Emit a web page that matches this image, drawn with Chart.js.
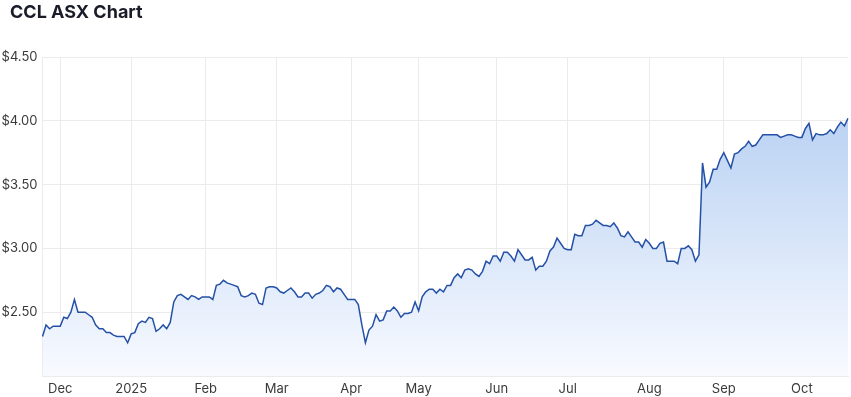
<!DOCTYPE html>
<html>
<head>
<meta charset="utf-8">
<script src="https://cdn.jsdelivr.net/npm/chart.js@4.4.0/dist/chart.umd.min.js"></script>
<style>
    html, body { margin: 0; padding: 0; background: #ffffff; }
    #wrap { position: relative; width: 851px; height: 397px; }
    #title { position: absolute; left: 10px; top: 1px; font: 700 18px Inter, "Noto Sans", sans-serif; color: #1b1c2a; }
    canvas { position: absolute; left: 0; top: 0; }
</style>
</head>
<body>
<div id="wrap">
    <canvas id="chart" width="851" height="397"></canvas>
    <div id="title">CCL ASX Chart</div>
</div>
<script>
// Tick label shown on the first trading day of each month ('' = no label)
const monthTickLabels = ['', 'Dec', '2025', 'Feb', 'Mar', 'Apr', 'May', 'Jun', 'Jul', 'Aug', 'Sep', 'Oct'];

// Daily closes (A$), one array per month
const nov24 = [2.31, 2.40, 2.37, 2.39, 2.39];
const dec24 = [2.39, 2.46, 2.45, 2.50, 2.60, 2.50, 2.50, 2.50, 2.48, 2.46, 2.40, 2.37, 2.37, 2.34, 2.34, 2.32, 2.31, 2.31, 2.31, 2.26];
const jan25 = [2.33, 2.34, 2.41, 2.43, 2.42, 2.46, 2.45, 2.35, 2.37, 2.40, 2.37, 2.42, 2.58, 2.63, 2.64, 2.62, 2.60, 2.63, 2.62, 2.60, 2.62];
const feb25 = [2.62, 2.62, 2.60, 2.71, 2.72, 2.75, 2.73, 2.72, 2.71, 2.70, 2.63, 2.62, 2.63, 2.65, 2.64, 2.57, 2.56, 2.69, 2.70, 2.70];
const mar25 = [2.69, 2.66, 2.65, 2.67, 2.69, 2.66, 2.62, 2.62, 2.65, 2.65, 2.61, 2.64, 2.65, 2.67, 2.71, 2.70, 2.66, 2.69, 2.68, 2.64, 2.60];
const apr25 = [2.60, 2.60, 2.56, 2.40, 2.26, 2.36, 2.39, 2.48, 2.43, 2.44, 2.51, 2.51, 2.54, 2.51, 2.46, 2.49, 2.49, 2.50, 2.58];
const may25 = [2.51, 2.62, 2.66, 2.68, 2.68, 2.65, 2.68, 2.66, 2.71, 2.71, 2.77, 2.80, 2.77, 2.83, 2.84, 2.83, 2.80, 2.78, 2.82, 2.90, 2.88, 2.94];
const jun25 = [2.94, 2.90, 2.97, 2.97, 2.94, 2.90, 2.99, 2.95, 2.91, 2.91, 2.93, 2.83, 2.86, 2.86, 2.90, 2.98, 3.01, 3.08, 3.04, 3.00];
const jul25 = [2.99, 2.99, 3.11, 3.10, 3.10, 3.18, 3.18, 3.19, 3.22, 3.20, 3.18, 3.18, 3.17, 3.20, 3.16, 3.10, 3.09, 3.13, 3.09, 3.05, 3.05, 3.01, 3.07];
const aug25 = [3.04, 3.00, 3.00, 3.04, 3.05, 2.90, 2.90, 2.90, 2.88, 3.00, 3.00, 3.02, 2.99, 2.90, 2.95, 3.67, 3.48, 3.52, 3.62, 3.62, 3.70];
const sep25 = [3.75, 3.69, 3.63, 3.74, 3.75, 3.78, 3.80, 3.84, 3.80, 3.81, 3.85, 3.89, 3.89, 3.89, 3.89, 3.89, 3.87, 3.88, 3.89, 3.89, 3.88, 3.87];
const oct25 = [3.87, 3.94, 3.98, 3.85, 3.90, 3.89, 3.89, 3.90, 3.93, 3.90, 3.95, 3.99, 3.96, 4.02];

const closesByMonth = [nov24, dec24, jan25, feb25, mar25, apr25, may25, jun25, jul25, aug25, sep25, oct25];

// Y axis range
const yMin = 2.0;
const yMax = 4.5;
const yStep = 0.5;

// --- flatten months into category labels + prices ---
const labels = [];
const prices = [];
closesByMonth.forEach((month, m) => {
    month.forEach((p, d) => {
        labels.push(d === 0 ? monthTickLabels[m] : '');
        prices.push(p);
    });
});

const GRID = '#ebebeb';
const TICK_FONT = { family: 'Inter, "Noto Sans", sans-serif', size: 13 };

const fillGradient = (context) => {
    const { chart } = context;
    const area = chart.chartArea;
    if (!area) return 'rgba(0,0,0,0)';
    const g = chart.ctx.createLinearGradient(0, area.top, 0, area.bottom);
    g.addColorStop(0, 'rgb(172, 201, 240)');
    g.addColorStop(1, 'rgb(248, 250, 255)');
    return g;
};

new Chart(document.getElementById('chart'), {
    type: 'line',
    data: {
        labels: labels,
        datasets: [{
            data: prices,
            borderColor: '#2451a6',
            borderWidth: 1.5,
            pointRadius: 0,
            tension: 0,
            fill: 'start',
            backgroundColor: fillGradient
        }]
    },
    options: {
        responsive: false,
        animation: false,
        layout: { padding: { top: 57, right: 3, left: 0, bottom: 0 } },
        plugins: {
            legend: { display: false },
            tooltip: { enabled: false }
        },
        scales: {
            x: {
                grid: { color: GRID, drawTicks: false },
                border: { color: GRID },
                ticks: {
                    autoSkip: false,
                    maxRotation: 0,
                    padding: 5,
                    color: '#3a3a3a',
                    font: TICK_FONT,
                    callback: function (value) {
                        const l = this.getLabelForValue(value);
                        return l ? l : null;
                    }
                },
                afterFit: (scale) => { scale.height = 21; }
            },
            y: {
                min: yMin,
                max: yMax,
                grid: { color: GRID, drawTicks: false },
                border: { color: GRID },
                ticks: {
                    stepSize: yStep,
                    padding: 5,
                    color: '#3a3a3a',
                    font: TICK_FONT,
                    callback: (v) => v <= yMin ? null : '$' + v.toFixed(2)
                },
                afterFit: (scale) => { scale.width = 42.5; }
            }
        }
    }
});
</script>
</body>
</html>
